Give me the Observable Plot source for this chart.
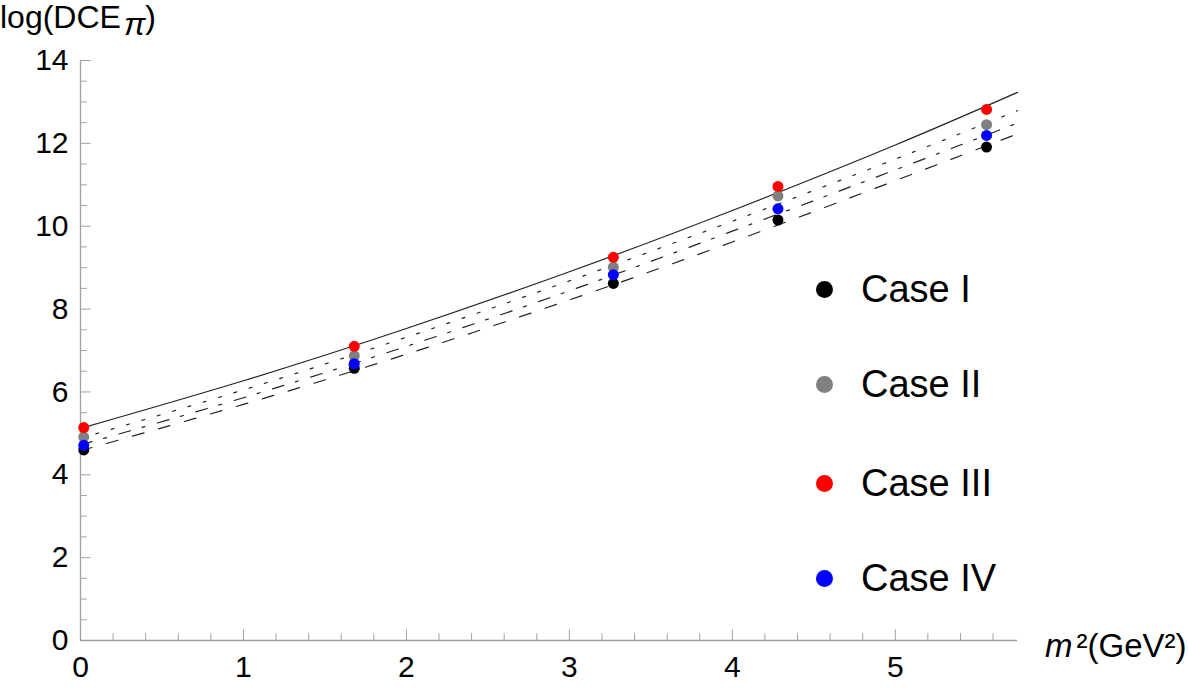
<!DOCTYPE html>
<html><head><meta charset="utf-8">
<script src="https://cdn.jsdelivr.net/npm/d3@7"></script>
<script src="https://cdn.jsdelivr.net/npm/@observablehq/plot@0.6"></script>
<style>
body{margin:0;background:#fff;}
#wrap{position:relative;width:1188px;height:688px;font-family:"Liberation Sans",Arial,sans-serif;}
.item{position:absolute;left:808px;height:40px;display:flex;align-items:center;font-size:38px;color:#000;}
.item .dot{width:17px;height:17px;border-radius:50%;margin-right:28px;margin-left:8px;}
</style></head><body><div id="wrap"></div>
<script>
// Data points
const xPts = [0.02, 1.68, 3.27, 4.28, 5.56];
const caseI   = [4.60, 6.57, 8.62, 10.15, 11.91];
const caseII  = [4.91, 6.87, 9.01, 10.73, 12.45];
const caseIII = [5.14, 7.10, 9.25, 10.96, 12.82];
const caseIV  = [4.71, 6.68, 8.83, 10.42, 12.19];

// Curves
const xCurve = [0, 1, 2, 3, 4, 5, 5.75];
const curveSolid   = [5.12, 6.27, 7.53, 8.90, 10.38, 11.96, 13.23];
const curveDotted  = [4.88, 6.05, 7.32, 8.68, 10.12, 11.62, 12.79];
const curveDotDash = [4.72, 5.86, 7.10, 8.44, 9.88, 11.36, 12.49];
const curveDashed  = [4.58, 5.70, 6.91, 8.22, 9.62, 11.10, 12.23];

// Ticks
const xMajor = [0, 1, 2, 3, 4, 5];
const xMinor = [0.2, 0.4, 0.6, 0.8, 1.2, 1.4, 1.6, 1.8, 2.2, 2.4, 2.6, 2.8, 3.2, 3.4, 3.6, 3.8, 4.2, 4.4, 4.6, 4.8, 5.2, 5.4, 5.6];
const yMajor = [0, 2, 4, 6, 8, 10, 12, 14];
const yMinor = [0.5, 1, 1.5, 2.5, 3, 3.5, 4.5, 5, 5.5, 6.5, 7, 7.5, 8.5, 9, 9.5, 10.5, 11, 11.5, 12.5, 13, 13.5];

const caseNames = ["Case I", "Case II", "Case III", "Case IV"];
const caseColors = ["#000000", "#808080", "#ff0000", "#0000ff"];
const caseValues = [caseI, caseII, caseIII, caseIV];

const W = 1188, H = 688, mL = 80, mR = 171, mT = 60, mB = 48;
const fw = W - mL - mR, fh = H - mT - mB;
const axisColor = "#a0a0a0";

const curve = (vals) => xCurve.map((x, i) => ({x, y: vals[i]}));
const pts = (vals) => xPts.map((x, i) => ({x, y: vals[i]}));

const lineOpts = {x: "x", y: "y", stroke: "#222", strokeWidth: 1.2, curve: "natural"};

const plot = Plot.plot({
  width: W, height: H, marginLeft: mL, marginRight: mR, marginTop: mT, marginBottom: mB,
  style: {fontFamily: "'Liberation Sans', Arial, sans-serif", background: "#fff", color: "#000"},
  x: {domain: [0, 5.75]},
  y: {domain: [0, 14]},
  marks: [
    Plot.ruleX([0], {stroke: axisColor, strokeWidth: 1.3}),
    Plot.ruleY([0], {stroke: axisColor, strokeWidth: 1.3}),
    Plot.tickX(xMajor, {x: d => d, stroke: axisColor, insetTop: fh - 10.7}),
    Plot.tickX(xMinor, {x: d => d, stroke: axisColor, insetTop: fh - 6.8}),
    Plot.tickY(yMajor, {y: d => d, stroke: axisColor, insetRight: fw - 10.7}),
    Plot.tickY(yMinor, {y: d => d, stroke: axisColor, insetRight: fw - 6.8}),
    Plot.axisX(xMajor, {tickSize: 0, tickPadding: 15, fontSize: 30, label: null, fill: "#000", tickFormat: d => String(d)}),
    Plot.axisY(yMajor, {tickSize: 0, tickPadding: 12, fontSize: 30, label: null, fill: "#000", tickFormat: d => String(d)}),
    Plot.line(curve(curveSolid), lineOpts),
    Plot.line(curve(curveDotted), {...lineOpts, strokeDasharray: "3,13"}),
    Plot.line(curve(curveDotDash), {...lineOpts, strokeDasharray: "12,12,3,13"}),
    Plot.line(curve(curveDashed), {...lineOpts, strokeDasharray: "12,15"}),
    Plot.dot(pts(caseI), {x: "x", y: "y", r: 5.5, fill: caseColors[0], stroke: "none"}),
    Plot.dot(pts(caseII), {x: "x", y: "y", r: 5.5, fill: caseColors[1], stroke: "none"}),
    Plot.dot(pts(caseIII), {x: "x", y: "y", r: 5.5, fill: caseColors[2], stroke: "none"}),
    Plot.dot(pts(caseIV), {x: "x", y: "y", r: 5.5, fill: caseColors[3], stroke: "none"})
  ]
});

const svg = d3.select(plot);
const yl = svg.append("text").attr("x", 0).attr("y", 28).attr("text-anchor", "start")
  .attr("font-size", 32).attr("fill", "#000");
yl.append("tspan").text("log(DCE");
yl.append("tspan").attr("font-style", "italic").attr("dy", 7).attr("dx", 3).text("π");
yl.append("tspan").attr("dy", -7).text(")");

const xl = svg.append("text").attr("x", 1045).attr("y", 657).attr("text-anchor", "start")
  .attr("font-size", 33).attr("fill", "#000");
xl.append("tspan").attr("font-style", "italic").text("m");
xl.append("tspan").attr("dx", 4).text("²(GeV²)");

const wrap = document.getElementById("wrap");
wrap.appendChild(plot);

const legendY = [289, 384, 483, 578];
caseNames.forEach((name, i) => {
  const div = document.createElement("div");
  div.className = "item";
  div.style.top = (legendY[i] - 20) + "px";
  const d = document.createElement("span");
  d.className = "dot";
  d.style.background = caseColors[i];
  div.appendChild(d);
  div.appendChild(document.createTextNode(name));
  wrap.appendChild(div);
});
</script></body></html>
